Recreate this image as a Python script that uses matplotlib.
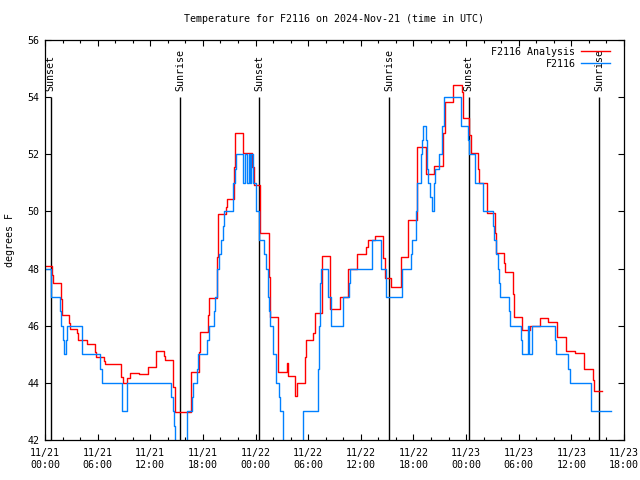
import matplotlib
matplotlib.use("Agg")
import matplotlib.pyplot as plt
from matplotlib.ticker import MultipleLocator, FixedLocator
import datetime

# hours after 2024-11-21 00:00 UTC, step values in degrees F
obs_t = [0.00, 0.68, 1.68, 1.79, 2.09, 2.20, 2.43, 2.54, 4.25, 6.30, 6.46, 8.81, 9.38,
         14.40, 14.56, 14.70, 14.82, 16.19, 16.79, 16.90, 17.36, 17.47, 18.50, 18.66,
         19.23, 19.34, 19.64, 19.87, 20.03, 20.26, 20.37, 21.46, 21.62, 21.74, 22.60,
         22.76, 23.06, 23.22, 23.37, 23.52, 23.74, 24.05, 24.36, 24.43, 25.00, 25.19,
         25.38, 25.57, 25.65, 25.95, 26.33, 26.64, 26.79, 27.09, 29.44, 31.08, 31.20,
         31.35, 31.46, 32.29, 32.63, 34.00, 34.62, 34.80, 37.31, 38.27, 38.83, 38.90,
         40.73, 41.68, 41.80, 42.29, 42.44, 42.86, 43.01, 43.12, 43.39, 43.51, 43.66,
         43.85, 44.08, 44.37, 44.45, 44.94, 45.22, 45.51, 47.42, 48.25, 48.36, 48.98,
         49.89, 51.07, 51.21, 51.44, 51.60, 51.78, 51.90, 52.92, 53.04, 54.26, 54.34,
         55.02, 55.20, 55.51, 58.13, 58.21, 59.65, 59.81, 62.27, 64.48]
obs_v = [48.0, 47.0, 46.5, 46.0, 45.5, 45.0, 45.5, 46.0, 45.0, 44.5, 44.0, 43.0, 44.0,
         43.5, 43.0, 42.5, 41.5, 43.0, 43.5, 44.0, 44.5, 45.0, 45.5, 46.0,
         46.5, 47.0, 48.0, 48.5, 49.0, 49.5, 50.0, 51.0, 51.5, 52.0, 51.0,
         52.0, 51.0, 52.0, 51.0, 52.0, 51.0, 50.0, 49.5, 49.0, 48.5, 48.0,
         47.0, 46.5, 46.0, 45.0, 44.0, 43.5, 43.0, 41.5, 43.0, 44.5, 46.0,
         47.5, 48.0, 47.0, 46.0, 47.0, 47.5, 48.0, 49.0, 48.0, 47.5, 47.0,
         48.0, 48.5, 49.0, 50.0, 51.0, 52.0, 52.5, 53.0, 52.5, 51.5, 51.0,
         50.5, 50.0, 51.0, 51.5, 52.0, 53.0, 54.0, 53.0, 52.5, 52.0, 51.0,
         50.0, 49.5, 49.0, 48.5, 48.0, 47.5, 47.0, 46.5, 46.0, 45.5, 45.0,
         46.0, 45.0, 46.0, 45.5, 45.0, 44.5, 44.0, 43.0, 43.0]

ana_t = [0.00, 0.80, 0.88, 1.79, 1.90, 2.74, 2.82, 3.68, 3.80, 4.82, 5.73, 5.81, 6.73,
         6.87, 8.70, 8.89, 9.35, 9.72, 10.68, 11.71, 12.69, 13.60, 13.72, 14.63, 14.78,
         16.61, 16.67, 17.55, 17.67, 18.58, 18.69, 19.64, 19.75, 20.67, 20.78, 21.54,
         21.69, 22.60, 23.63, 23.82, 24.51, 25.57, 25.68, 26.52, 27.55, 27.73, 28.53,
         28.69, 29.60, 29.75, 30.58, 30.78, 31.54, 32.52, 33.59, 34.54, 35.53, 36.56,
         36.85, 37.62, 38.56, 38.72, 39.47, 40.54, 41.41, 42.44, 43.43, 44.38, 45.40,
         45.63, 46.54, 47.50, 47.68, 48.37, 48.53, 49.36, 49.47, 50.42, 51.26, 51.44,
         52.35, 52.47, 53.35, 53.49, 54.37, 55.25, 56.42, 57.33, 58.33, 58.39, 59.35,
         59.42, 60.38, 61.44, 62.43, 62.58, 63.53]
ana_v = [48.09, 47.78, 47.48, 46.92, 46.36, 46.10, 45.90, 45.73, 45.50, 45.35, 45.09, 44.89, 44.76,
         44.65, 44.20, 44.00, 44.16, 44.33, 44.30, 44.57, 45.10, 44.94, 44.80, 43.87, 42.97,
         43.69, 44.39, 45.09, 45.79, 46.37, 46.96, 48.42, 49.90, 50.14, 50.42, 51.57,
         52.73, 52.03, 51.56, 50.93, 49.23, 47.72, 46.32, 44.39, 44.70, 44.24, 43.54,
         44.00, 44.92, 45.50, 45.73, 46.46, 48.45, 46.57, 47.00, 47.97, 48.50, 48.77,
         49.00, 49.14, 48.36, 47.66, 47.34, 48.42, 49.70, 52.27, 51.30, 51.59, 52.73,
         53.84, 54.42, 54.19, 53.26, 52.67, 52.06, 51.50, 50.98, 49.96, 49.23, 48.56,
         48.20, 47.87, 47.10, 46.30, 45.85, 46.00, 46.26, 46.12, 45.87, 45.60, 45.41,
         45.13, 45.06, 44.50, 44.10, 43.71, 43.71]

sun_t = [0.65, 15.43, 24.43, 39.25, 48.29, 63.18]
sun_lbl = ["Sunset", "Sunrise", "Sunset", "Sunrise", "Sunset", "Sunrise"]

start = datetime.datetime(2024, 11, 21)
tick_h = list(range(0, 67, 6))
tick_lbl = [(start + datetime.timedelta(hours=h)).strftime("%m/%d\n%H:%M") for h in tick_h]

mono = "DejaVu Sans Mono"
fs = 7.2
plt.rcParams["font.family"] = mono
plt.rcParams["font.size"] = fs

fig = plt.figure(figsize=(6.4, 4.8), dpi=100)
ax = fig.add_axes([45 / 640, 40 / 480, 579 / 640, 400 / 480])

for t, lbl in zip(sun_t, sun_lbl):
    ax.vlines(t, 42, 54, color="black", lw=1)
    ax.text(t, 54.2, lbl, rotation=90, ha="center", va="bottom", fontsize=fs)

ax.step(ana_t, ana_v, where="post", color="#ff0000", lw=1, label="F2116 Analysis")
ax.step(obs_t, obs_v, where="post", color="#0080ff", lw=1, label="F2116")

ax.set_xlim(0, 66)
ax.set_ylim(42, 56)
ax.xaxis.set_major_locator(FixedLocator(tick_h))
ax.set_xticklabels(tick_lbl, linespacing=1.35)
ax.xaxis.set_minor_locator(MultipleLocator(2))
ax.yaxis.set_major_locator(MultipleLocator(2))
ax.tick_params(which="both", direction="in", top=True, right=True, labelsize=fs, width=0.8)
ax.tick_params(which="major", length=4.5)
ax.tick_params(which="minor", length=2.2)
ax.tick_params(axis="x", pad=5.5)
ax.tick_params(axis="y", pad=4)
for s in ax.spines.values():
    s.set_linewidth(0.9)

leg = ax.legend(loc="upper right", bbox_to_anchor=(0.987, 0.998), frameon=False,
                markerfirst=False, handlelength=2.9, handletextpad=0.6,
                labelspacing=0.2, borderaxespad=0.2, fontsize=fs)

fig.text(334.5 / 640, 1 - 19.5 / 480, "Temperature for F2116 on 2024-Nov-21 (time in UTC)",
         ha="center", va="center", fontsize=fs)
fig.text(10 / 640, 0.5, "degrees F", rotation=90, ha="center", va="center", fontsize=fs)

fig.savefig("out.png", dpi=100)
